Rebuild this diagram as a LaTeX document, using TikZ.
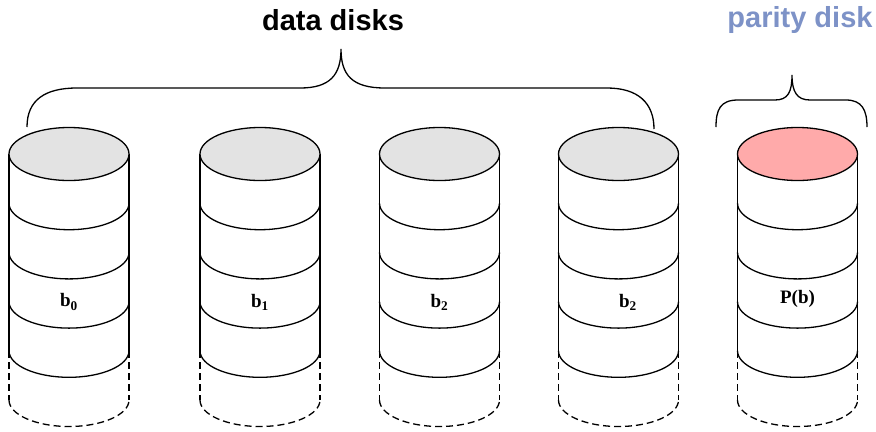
\documentclass[tikz,border=0pt]{standalone}
\usepackage{fontspec}
\setmainfont{Liberation Serif}
\setsansfont{Liberation Sans}
\definecolor{topgrey}{RGB}{227,227,227}
\definecolor{paritytop}{RGB}{255,170,170}
\definecolor{paritytext}{RGB}{125,146,199}
\tikzset{
  outline/.style={line width=1.3bp, black},
  dashpart/.style={outline, dashed, dash pattern=on 7bp off 4bp},
  bandlabel/.style={font=\fontsize{19bp}{22bp}\selectfont\bfseries, inner sep=0pt},
  heading/.style={font=\fontsize{29bp}{34bp}\selectfont\sffamily\bfseries, inner sep=0pt, anchor=base},
}
% one disk: center x, top fill colour
\newcommand\drawdisk[2]{%
  \begin{scope}[shift={(#1,0)}]
    % side walls
    \draw[outline] (-60,-154) -- (-60,-351);
    \draw[outline] (60,-154) -- (60,-351);
    \draw[dashpart] (-60,-351) -- (-60,-400);
    \draw[dashpart] (60,-351) -- (60,-400);
    % band separators
    \foreach \k in {1,...,4}{
      \draw[outline] (-60,-154-49.2*\k) arc[start angle=180, end angle=360, x radius=60, y radius=26.5];
    }
    \draw[dashpart] (-60,-400) arc[start angle=180, end angle=360, x radius=60, y radius=26.5];
    % top face
    \draw[outline, fill=#2] (0,-154) ellipse[x radius=60, y radius=26.5];
  \end{scope}%
}
\begin{document}
\begin{tikzpicture}[x=1bp, y=1bp]
  \useasboundingbox (0,0) rectangle (876,-431);

  \drawdisk{69}{topgrey}
  \drawdisk{260}{topgrey}
  \drawdisk{439.5}{topgrey}
  \drawdisk{618.5}{topgrey}
  \drawdisk{797.5}{paritytop}

  % block labels
  \node[bandlabel] (l0) at (69,-302) {b\textsubscript{0}};
  \node[bandlabel] (l1) at (260,-302) {b\textsubscript{1}};
  \node[bandlabel] (l2) at (439.5,-302) {b\textsubscript{2}};
  \node[bandlabel] (l3) at (628,-302) {b\textsubscript{2}};
  \node[bandlabel] (lp) at (797.5,-299) {P(b)};

  % braces
  \draw[outline] (27,-127) .. controls (27,-100) and (45,-88) .. (77,-88)
    -- (300,-88) .. controls (330,-88) and (341,-75) .. (341,-49)
    .. controls (341,-75) and (352,-88) .. (385,-88)
    -- (607,-88) .. controls (638,-88) and (654,-103) .. (654,-129);
  \draw[outline] (716,-127) .. controls (716,-110) and (720,-100) .. (738,-100)
    -- (775,-100) .. controls (788,-100) and (792,-92) .. (792,-75)
    .. controls (792,-92) and (797,-100) .. (810,-100)
    -- (846,-100) .. controls (862,-100) and (867,-110) .. (867,-127);

  % headings
  \node[heading] (dd) at (333,-30) {data disks};
  \node[heading, text=paritytext] (pd) at (800,-27) {parity disk};
\end{tikzpicture}
\end{document}
